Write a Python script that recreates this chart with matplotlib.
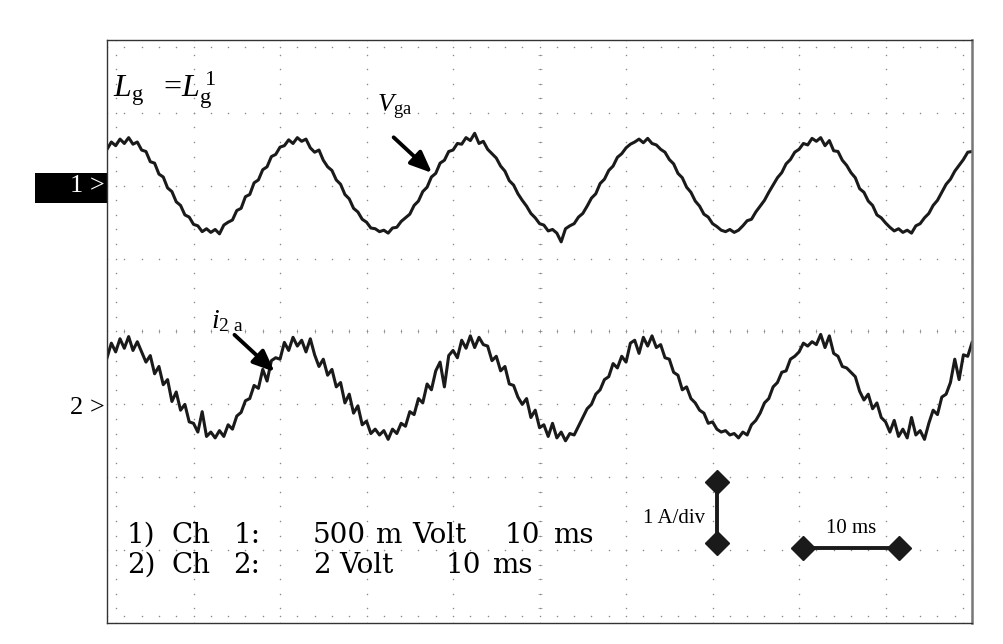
import matplotlib
matplotlib.use("Agg")
import matplotlib.pyplot as plt
from matplotlib.patches import Rectangle
import numpy as np

plt.rcParams['font.family'] = ['Liberation Serif', 'DejaVu Serif']
plt.rcParams['mathtext.fontset'] = 'custom'
plt.rcParams['mathtext.rm'] = 'Liberation Serif'
plt.rcParams['mathtext.it'] = 'Liberation Serif:italic'

# time axis in ms (10 ms/div, 10 div), sample every 0.5 ms
t_ms = np.arange(201) * 0.5

# channel 1 (V_ga), offsets in divisions around its ground marker
ch1_center = 6.0
ch1 = [
    0.50, 0.60, 0.55, 0.64, 0.58, 0.66, 0.57, 0.60, 0.49, 0.47, 0.33, 0.31, 0.16, 0.12, -0.03, -0.08, -0.22, -0.27, -0.40, -0.43,
    -0.53, -0.55, -0.63, -0.59, -0.64, -0.60, -0.66, -0.54, -0.50, -0.47, -0.34, -0.31, -0.15, -0.12, 0.04, 0.08, 0.22, 0.26, 0.40, 0.43,
    0.53, 0.55, 0.63, 0.58, 0.66, 0.61, 0.64, 0.52, 0.46, 0.49, 0.35, 0.26, 0.21, 0.08, 0.02, -0.12, -0.18, -0.31, -0.36, -0.46,
    -0.50, -0.58, -0.59, -0.63, -0.61, -0.65, -0.58, -0.57, -0.49, -0.44, -0.39, -0.27, -0.21, -0.08, -0.02, 0.12, 0.17, 0.31, 0.35, 0.47,
    0.49, 0.58, 0.57, 0.66, 0.62, 0.72, 0.58, 0.61, 0.50, 0.44, 0.38, 0.27, 0.20, 0.07, 0.01, -0.11, -0.20, -0.28, -0.38, -0.44,
    -0.52, -0.54, -0.62, -0.60, -0.65, -0.77, -0.59, -0.55, -0.52, -0.43, -0.38, -0.28, -0.17, -0.11, 0.03, 0.09, 0.21, 0.27, 0.39, 0.44,
    0.52, 0.57, 0.60, 0.64, 0.59, 0.65, 0.58, 0.56, 0.50, 0.46, 0.36, 0.30, 0.17, 0.11, -0.02, -0.09, -0.21, -0.28, -0.39, -0.43,
    -0.52, -0.56, -0.61, -0.63, -0.60, -0.64, -0.61, -0.55, -0.48, -0.46, -0.36, -0.28, -0.20, -0.09, 0.01, 0.11, 0.18, 0.30, 0.36, 0.46,
    0.50, 0.58, 0.56, 0.65, 0.61, 0.66, 0.55, 0.62, 0.48, 0.47, 0.35, 0.28, 0.18, 0.11, -0.04, -0.09, -0.21, -0.27, -0.40, -0.44,
    -0.51, -0.57, -0.62, -0.59, -0.64, -0.61, -0.65, -0.55, -0.52, -0.44, -0.38, -0.27, -0.20, -0.09, 0.02, 0.09, 0.20, 0.28, 0.36, 0.46,
    0.47,
]

# channel 2 (i_2a)
ch2_center = 3.22
ch2 = [
    0.42, 0.62, 0.50, 0.68, 0.55, 0.71, 0.52, 0.64, 0.50, 0.36, 0.45, 0.20, 0.30, 0.05, 0.12, -0.18, -0.05, -0.30, -0.22, -0.46,
    -0.48, -0.60, -0.32, -0.66, -0.60, -0.68, -0.58, -0.66, -0.50, -0.56, -0.38, -0.33, -0.17, -0.14, 0.04, 0.00, 0.26, 0.10, 0.38, 0.42,
    0.40, 0.63, 0.52, 0.70, 0.58, 0.66, 0.50, 0.68, 0.46, 0.30, 0.40, 0.18, 0.26, 0.02, 0.08, -0.20, -0.08, -0.34, -0.24, -0.50,
    -0.45, -0.62, -0.56, -0.64, -0.58, -0.70, -0.56, -0.62, -0.48, -0.52, -0.32, -0.36, -0.14, -0.20, 0.06, -0.02, 0.24, 0.36, 0.02, 0.45,
    0.52, 0.42, 0.66, 0.55, 0.72, 0.56, 0.70, 0.60, 0.58, 0.38, 0.44, 0.24, 0.30, 0.06, 0.04, -0.12, -0.22, -0.14, -0.40, -0.30,
    -0.54, -0.50, -0.66, -0.48, -0.68, -0.60, -0.72, -0.62, -0.64, -0.52, -0.40, -0.28, -0.22, -0.08, -0.02, 0.12, 0.16, 0.34, 0.28, 0.44,
    0.36, 0.62, 0.66, 0.48, 0.70, 0.58, 0.72, 0.56, 0.60, 0.42, 0.40, 0.22, 0.18, -0.02, 0.02, -0.14, -0.20, -0.30, -0.34, -0.48,
    -0.46, -0.56, -0.60, -0.58, -0.64, -0.62, -0.68, -0.60, -0.64, -0.50, -0.44, -0.34, -0.20, -0.14, 0.02, 0.08, 0.22, 0.24, 0.40, 0.44,
    0.50, 0.62, 0.58, 0.64, 0.60, 0.74, 0.56, 0.72, 0.48, 0.44, 0.30, 0.28, 0.22, 0.16, -0.04, -0.16, -0.08, -0.28, -0.20, -0.40,
    -0.46, -0.60, -0.44, -0.66, -0.56, -0.68, -0.40, -0.64, -0.58, -0.70, -0.48, -0.30, -0.36, -0.12, -0.08, 0.08, 0.40, 0.12, 0.46, 0.44,
    0.63,
]

# settings readout, word by word as spaced on the scope screen (x in div)
ch1_words = ["1)", "Ch", "1:", "500", "m", "Volt", "10", "ms"]
ch1_word_x = [0.23, 0.75, 1.46, 2.38, 3.10, 3.53, 4.60, 5.16]
ch2_words = ["2)", "Ch", "2:", "2", "Volt", "10", "ms"]
ch2_word_x = [0.23, 0.75, 1.46, 2.38, 2.69, 3.91, 4.45]

fig = plt.figure(figsize=(10.04, 6.44), dpi=100)
ax = fig.add_axes([0.1066, 0.0326, 0.8616, 0.9053])
ax.set_xlim(0, 10)
ax.set_ylim(0, 8)
ax.set_xticks([])
ax.set_yticks([])
for s in ax.spines.values():
    s.set_color('#333333')
    s.set_linewidth(1.0)
ax.spines['right'].set_color('#777777')
ax.spines['right'].set_linewidth(1.8)

# dotted graticule
grid_col = '#8a8a8a'
minor = np.arange(0, 10.01, 0.2)
minor_y = np.arange(0, 8.01, 0.2)
for gx in range(1, 10):
    ax.scatter(np.full(minor_y.size, gx), minor_y, s=1.2, c=grid_col, lw=0)
for gy in range(1, 8):
    ax.scatter(minor, np.full(minor.size, gy), s=1.2, c=grid_col, lw=0)
# centre cross with small ticks
ax.plot(np.full(minor_y.size, 5), minor_y, ls='none', marker='_', ms=3, mew=0.5, color=grid_col)
ax.plot(minor, np.full(minor.size, 4), ls='none', marker='|', ms=3, mew=0.5, color=grid_col)
# edge ticks
ax.scatter(np.full(minor_y.size, 0.1), minor_y, s=1.2, c=grid_col, lw=0)
ax.scatter(np.full(minor_y.size, 9.9), minor_y, s=1.2, c=grid_col, lw=0)
ax.scatter(minor, np.full(minor.size, 0.1), s=1.2, c=grid_col, lw=0)
ax.scatter(minor, np.full(minor.size, 7.9), s=1.2, c=grid_col, lw=0)

# traces
x_div = t_ms / 10.0
ax.plot(x_div, ch1_center + np.array(ch1), color='#1a1a1a', lw=2.2)
ax.plot(x_div, ch2_center + np.array(ch2), color='#1a1a1a', lw=2.2)

# channel markers
ax.add_patch(Rectangle((-0.83, 5.76), 0.83, 0.41, facecolor='black', edgecolor='none', clip_on=False))
ax.text(-0.03, ch1_center, "1 >", color='white', fontsize=19, ha='right', va='center')
ax.text(-0.03, 2.95, "2 >", color='black', fontsize=19, ha='right', va='center')

# labels
ax.text(0.07, 7.22, r"$L_{\mathrm{g}}\ \ =\!L_{\mathrm{g}}^{\,1}$", fontsize=23, ha='left', va='baseline')
ax.text(3.12, 7.01, r"$V_{\mathrm{ga}}$", fontsize=19, ha='left', va='baseline')
ax.text(1.20, 4.05, r"$i_{\mathrm{2\ a}}$", fontsize=20, ha='left', va='baseline')
arrow_style = dict(arrowstyle='-|>,head_length=1.3,head_width=0.55', color='black', lw=2.8)
ax.annotate("", xy=(3.78, 6.15), xytext=(3.29, 6.69), arrowprops=arrow_style)
ax.annotate("", xy=(1.96, 3.42), xytext=(1.45, 3.98), arrowprops=arrow_style)

for txt, cx in zip(ch1_words, ch1_word_x):
    ax.text(cx, 1.10, txt, fontsize=20, ha='left', va='baseline', family='DejaVu Serif')
for txt, cx in zip(ch2_words, ch2_word_x):
    ax.text(cx, 0.69, txt, fontsize=20, ha='left', va='baseline', family='DejaVu Serif')

# scale bars
ax.plot([7.05, 7.05], [1.10, 1.93], color='#1a1a1a', lw=2.8, marker='D', ms=12)
ax.text(6.91, 1.44, "1 A/div", fontsize=15, ha='right', va='center')
ax.plot([8.05, 9.16], [1.03, 1.03], color='#1a1a1a', lw=2.8, marker='D', ms=12)
ax.text(8.60, 1.16, "10 ms", fontsize=15, ha='center', va='bottom')

fig.savefig("out.png", dpi=100)
